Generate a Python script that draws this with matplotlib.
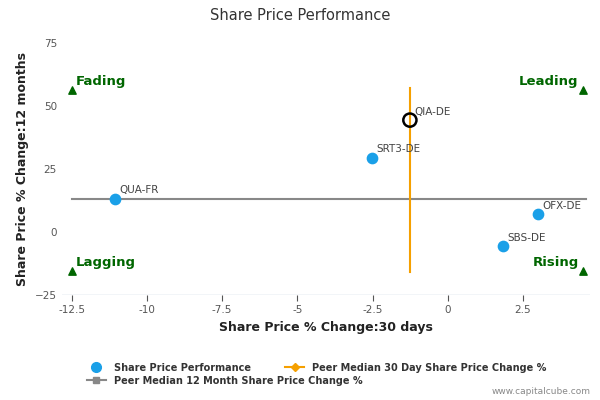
import matplotlib
matplotlib.use("Agg")
import matplotlib.pyplot as plt
from matplotlib.lines import Line2D

names = ["QUA-FR", "SRT3-DE", "QIA-DE", "OFX-DE", "SBS-DE"]
x30 = [-11.07, -2.53, -1.26, 3.0, 1.83]
y12 = [13.1, 29.4, 44.4, 7.1, -5.6]
median_x = -1.26
median_y = 13.1
median_y_range = [-16, 57]
median_x_range = [-12.5, 4.6]
xticks = [-12.5, -10, -7.5, -5, -2.5, 0, 2.5]
yticks = [-25, 0, 25, 50, 75]

fig = plt.figure(figsize=(6, 4), dpi=100)
ax = fig.add_axes([0.103, 0.2625, 0.880, 0.63])
ax.set_xlim(-12.83, 4.72)
ax.set_ylim(-25, 75)
for s in ax.spines.values():
    s.set_visible(False)
ax.axhline(-25, color="#c0d0e0", lw=1)
ax.set_xticks(xticks)
ax.set_xticklabels([f"{t:g}" for t in xticks])
ax.set_yticks(yticks)
ax.tick_params(labelsize=7.5, colors="#555555", length=4)
ax.tick_params(axis="y", length=0)

ax.plot(median_x_range, [median_y, median_y], color="#888888", lw=1.5)
ax.plot([median_x, median_x], median_y_range, color="#f5a000", lw=1.5)
blue = "#1aa0e8"
for n, x, y in zip(names, x30, y12):
    if n == "QIA-DE":
        ax.scatter(x, y, s=90, facecolor="none", edgecolor="black", lw=1.8, zorder=5)
    else:
        ax.scatter(x, y, s=55, color=blue, zorder=5)
    ax.text(x + 0.15, y + 2.2, n, fontsize=7.5, color="#444444")

g = "#006600"
for (x, y, lab, ha) in [(-12.5, 56.5, "Fading", "left"), (4.5, 56.5, "Leading", "right"),
                        (-12.5, -15.5, "Lagging", "left"), (4.5, -15.5, "Rising", "right")]:
    ax.scatter(x, y, marker="^", s=28, color=g, zorder=5, clip_on=False)
    ax.text(x + (0.15 if ha == "left" else -0.15), y + 2, lab, ha=ha, fontsize=9.5,
            fontweight="bold", color=g)

ax.set_xlabel("Share Price % Change:30 days", fontsize=9, fontweight="bold", color="#222222")
ax.set_ylabel("Share Price % Change:12 months", fontsize=9, fontweight="bold", color="#222222")
fig.text(0.5, 0.95, "Share Price Performance", ha="center", fontsize=10.5, color="#333333")

handles = [Line2D([], [], marker="o", ls="none", color=blue, markersize=7),
           Line2D([], [], marker="s", color="#888888", markersize=5, lw=1.5),
           Line2D([], [], marker="D", color="#f5a000", markersize=4, lw=1.5)]
labels = ["Share Price Performance", "Peer Median 12 Month Share Price Change %",
          "Peer Median 30 Day Share Price Change %"]
leg = fig.legend(handles, labels, loc="upper left", bbox_to_anchor=(0.13, 0.115), ncol=2,
                 frameon=False, fontsize=7, handlelength=2, columnspacing=-8, labelspacing=0.3)
for t in leg.get_texts():
    t.set_fontweight("bold"); t.set_color("#333333")
fig.text(0.985, 0.015, "www.capitalcube.com", ha="right", fontsize=6.5, color="#888888")
fig.savefig("out.png")
